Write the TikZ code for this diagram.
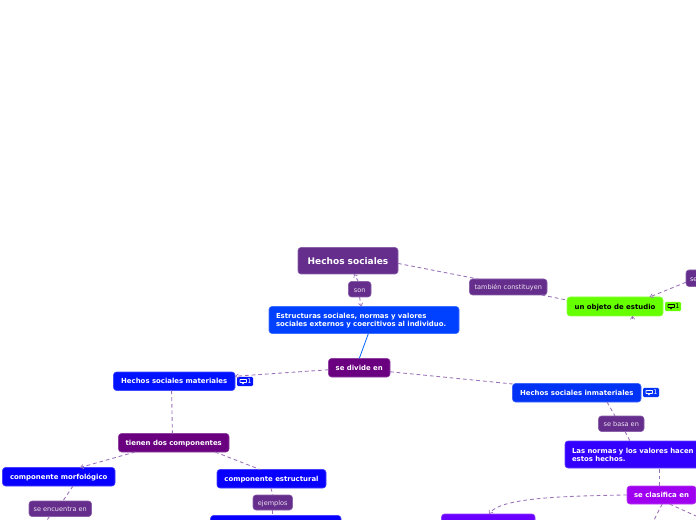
\documentclass[tikz,border=0pt]{standalone}
\usepackage{fontspec}
\setmainfont{DejaVu Sans}
\usetikzlibrary{arrows.meta}
\definecolor{cPurple}{HTML}{652D8C}
\definecolor{cRoyal}{HTML}{0040FF}
\definecolor{cDeep}{HTML}{6A0080}
\definecolor{cLime}{HTML}{66FF00}
\definecolor{cBlueA}{HTML}{0033F5}
\definecolor{cBlueB}{HTML}{0012FF}
\definecolor{cBlueC}{HTML}{0800FF}
\definecolor{cIndigo}{HTML}{3300FF}
\definecolor{cViolet}{HTML}{A000F0}
\definecolor{cViolet2}{HTML}{6A00FF}
\definecolor{cLink}{HTML}{9A72B8}
\newcommand{\bx}[7][]{\node[basebox,#1,#7,minimum width={(#4-#2)*0.75pt},minimum height={(#5-#3)*0.75pt}] (#6) at ({(#2+#4)/2},{(#3+#5)/2})}
\tikzset{
  x=0.75pt,y=-0.75pt,
  basebox/.style={rounded corners=2.2pt,inner sep=0pt,outer sep=0pt,line width=0.4pt,align=left},
  topic/.style={fill=#1,draw=#1!75!white,text=white,font=\fontsize{5.2}{6.1}\selectfont\bfseries},
  one/.style={text height=4pt,text depth=0pt},
  label/.style={fill=cPurple,draw=cPurple!75!white,text=white!88!cPurple,font=\fontsize{4.9}{5.8}\selectfont,text height=4.2pt,text depth=0pt},
  badge/.style={fill=#1,rounded corners=0.8pt,inner sep=0pt,outer sep=0pt},
  link/.style={draw=cLink,line width=0.65pt,dash pattern=on 2.8pt off 2.2pt},
  linkarrow/.style={link,-{Straight Barb[length=2.2pt,width=3.2pt,line width=0.5pt]}},
}
\newcommand{\cbadge}[5]{% name, left, top, fill, icon colour
  \node[badge=#4,minimum width=12pt,minimum height=6.8pt] (#1) at ({#2+8},{#3+4.5}) {};
  \draw[#5,line width=0.45pt,rounded corners=0.2pt] ({#2+3},{#3+2.5}) rectangle ({#2+9.5},{#3+5.5});
  \draw[#5,line width=0.45pt] ({#2+5},{#3+5.5}) -- ({#2+6},{#3+7}) -- ({#2+7},{#3+5.5});
  \node[text=#5,inner sep=0pt,font=\fontsize{4.8}{5}\selectfont] (#1t) at ({#2+12.5},{#3+4.6}) {1};
}
\begin{document}
\begin{tikzpicture}
\useasboundingbox (0,0) rectangle (696,520);
\clip (0,0) rectangle (696,520);
% nodes
\bx{298}{247.5}{398}{274}{hs}{topic=cPurple,font=\fontsize{6.75}{8}\selectfont\bfseries,text height=5.6pt,text depth=0pt}{Hechos sociales};
\bx[label]{348.5}{281.5}{371}{297}{son}{}{son};
\bx{269}{306.5}{459}{333.5}{est}{topic=cRoyal,text width={176*0.75pt}}{\rule{0pt}{5pt}Estructuras sociales, normas y valores\\sociales externos y coercitivos al individuo.};
\bx{328.5}{358.5}{390}{377}{div}{topic=cDeep,one}{se divide en};
\bx[label]{469.5}{279}{547}{295}{tam}{}{también constituyen};
\bx{567}{297}{663}{316}{obj}{topic=cLime,text=black,one}{un objeto de estudio};
\bx[label]{686}{270}{730}{286.5}{so}{text width={36*0.75pt}}{se};
\bx{512.5}{383.5}{641}{402}{inm}{topic=cBlueA,one}{Hechos sociales inmateriales};
\bx[label]{598.5}{416}{644}{431.5}{bas}{}{se basa en};
\bx{565}{441}{703}{468}{nor}{topic=cIndigo,text width={124*0.75pt}}{\rule{0pt}{5pt}Las normas y los valores hacen\\estos hechos.};
\bx{627}{486}{696}{504}{cla}{topic=cViolet,one}{se clasifica en};
\bx{441.5}{514}{535}{534}{vio}{topic=cViolet2}{};
\bx{113.5}{372}{235}{390.5}{mat}{topic=cBlueB,one}{Hechos sociales materiales};
\bx{118.5}{433.5}{229}{452}{tie}{topic=cDeep,one}{tienen dos componentes};
\bx{2.5}{467.5}{115}{486}{mor}{topic=cBlueC,one}{componente morfológico};
\bx{217}{469.5}{326}{488}{ect}{topic=cBlueC,one}{componente estructural};
\bx[label]{253}{495}{292.5}{510}{eje}{}{ejemplos};
\bx{210.5}{515.5}{341}{535}{ejb}{topic=cBlueC}{};
\bx[label]{29}{501}{91.5}{516.5}{enc}{}{se encuentra en};
% comment badges
\cbadge{bo}{665}{302}{cLime}{black}
\cbadge{bi}{643}{388}{cBlueA}{white}
\cbadge{bm}{237}{377}{cBlueB}{white}
% free ends
\coordinate (c1) at (632.5,315.8);
\coordinate (c1b) at (632.5,318.6);
\coordinate (d1) at (654,520);
\coordinate (d2) at (696,516);
\coordinate (d3) at (47,520);
% connectors
\draw[linkarrow] ([xshift=-1pt]son.north) -- ([xshift=4.5pt]hs.south);
\draw[linkarrow] ([xshift=-0.2pt]son.south) -- ([xshift=-2pt]est.north);
\draw[link] ([yshift=-2pt]hs.east) -- ([xshift=-22.7pt]tam.north);
\draw[link] ([xshift=-4pt]tam.south east) -- ([yshift=4.8pt]obj.west);
\draw[linkarrow] ([yshift=-3pt]so.west) -- ([xshift=26pt]obj.north);
\draw[linkarrow] (c1b) -- (c1);
\draw[draw=cRoyal!80!cyan,line width=0.6pt] ([xshift=3.3pt]est.south) -- (div.north);
\draw[linkarrow] ([yshift=-1.5pt]div.west) -- ([yshift=3.75pt]mat.east);
\draw[link] ([yshift=-3pt]div.east) -- ([yshift=6.6pt]inm.west);
\draw[link] ([xshift=22.7pt]inm.south) -- ([xshift=-4.7pt]bas.north);
\draw[link] ([xshift=2.8pt]bas.south) -- ([xshift=-3pt]nor.north);
\draw[link] ([xshift=-1.5pt]cla.north) -- ([xshift=-1.5pt]nor.south -| cla.north);
\draw[linkarrow] (cla.west) .. controls (560,496) and (500,498) .. ([xshift=0.6pt]vio.north);
\draw[link] ([xshift=0.5pt]cla.south) -- (d1);
\draw[link] ([xshift=6pt]cla.south) -- (d2);
\draw[link] ([xshift=-2pt]mat.south) -- ([xshift=-1pt]tie.north);
\draw[linkarrow] ([xshift=-29pt]tie.south) -- ([xshift=16pt]mor.north);
\draw[link] ([xshift=31pt]tie.south) -- ([xshift=-8.6pt]ect.north);
\draw[link] ([xshift=10.7pt]mor.south) -- ([xshift=2pt]enc.north);
\draw[link] ([xshift=-8pt]enc.south) -- (d3);
\draw[link] ([xshift=-0.4pt]ect.south) -- (eje.north);
\draw[link] (eje.south) -- (eje.south |- ejb.north);
\end{tikzpicture}
\end{document}
